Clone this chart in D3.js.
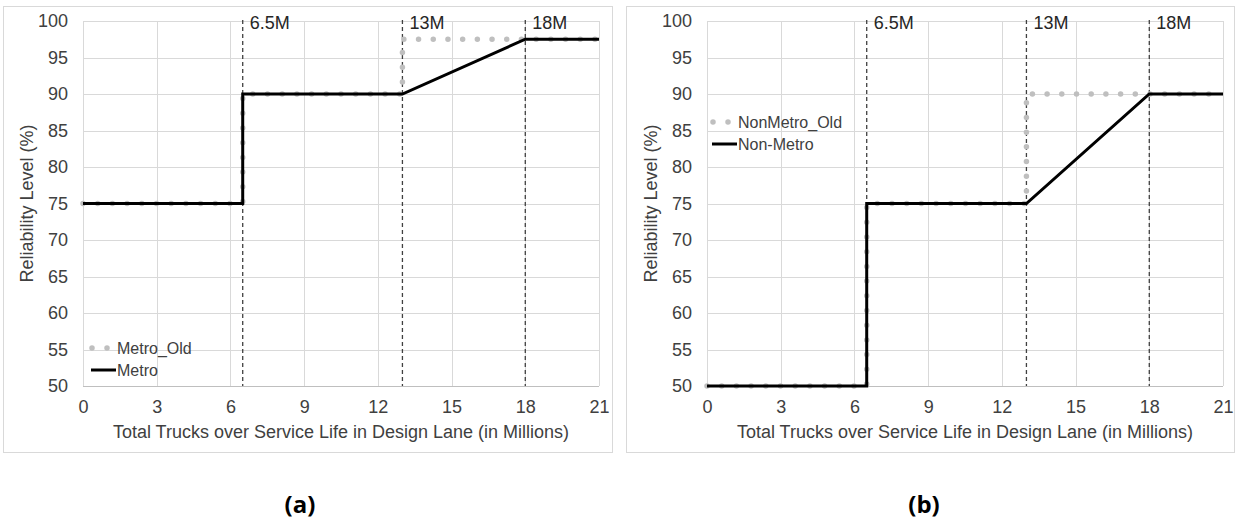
<!DOCTYPE html>
<html><head><meta charset="utf-8">
<script src="https://cdn.jsdelivr.net/npm/d3@7"></script>
<style>
html,body{margin:0;padding:0;background:#fff;}
text{font-family:"Liberation Sans",Arial,sans-serif;}
</style></head>
<body><svg id="c" width="1237" height="520"></svg>
<script>
// ---- data ----
const xTicks = [0, 3, 6, 9, 12, 15, 18, 21];
const yTicks = [50, 55, 60, 65, 70, 75, 80, 85, 90, 95, 100];
const thresholds = [6.5, 13, 18];
const thresholdLabels = ["6.5M", "13M", "18M"];

const metroOldX = [0, 6.5, 6.5, 13, 13, 18, 21];
const metroOldY = [75, 75, 90, 90, 97.5, 97.5, 97.5];
const metroX = [0, 6.5, 6.5, 13, 18, 21];
const metroY = [75, 75, 90, 90, 97.5, 97.5];

const nonMetroOldX = [0, 6.5, 6.5, 13, 13, 18, 21];
const nonMetroOldY = [50, 50, 75, 75, 90, 90, 90];
const nonMetroX = [0, 6.5, 6.5, 13, 18, 21];
const nonMetroY = [50, 50, 75, 75, 90, 90];

const panels = [
  {caption: "(a)", oldName: "Metro_Old", newName: "Metro",
   oldX: metroOldX, oldY: metroOldY, newX: metroX, newY: metroY,
   box: [3, 6, 612, 452], plot: [83, 21, 599, 386], legend: [92, 348], capX: 300},
  {caption: "(b)", oldName: "NonMetro_Old", newName: "Non-Metro",
   oldX: nonMetroOldX, oldY: nonMetroOldY, newX: nonMetroX, newY: nonMetroY,
   box: [626, 6, 1234, 452], plot: [707, 21, 1223, 386], legend: [713, 122], capX: 924}
];

const svg = d3.select("#c");
const FS = 18;
const TXT = "#404040";

panels.forEach(p => {
  const g = svg.append("g");
  const [bx0, by0, bx1, by1] = p.box;
  g.append("rect").attr("x", bx0 + 0.5).attr("y", by0 + 0.5)
    .attr("width", bx1 - bx0).attr("height", by1 - by0)
    .attr("fill", "#fff").attr("stroke", "#d9d9d9").attr("stroke-width", 1);

  const [px0, py0, px1, py1] = p.plot;
  const x = d3.scaleLinear().domain([0, 21]).range([px0, px1]);
  const y = d3.scaleLinear().domain([50, 100]).range([py1, py0]);

  // gridlines
  g.append("g").selectAll("line").data(yTicks).join("line")
    .attr("x1", px0).attr("x2", px1)
    .attr("y1", d => Math.round(y(d)) + 0.5).attr("y2", d => Math.round(y(d)) + 0.5)
    .attr("stroke", d => d === 50 ? "#bfbfbf" : "#d9d9d9").attr("stroke-width", 1);
  g.append("g").selectAll("line").data(xTicks).join("line")
    .attr("y1", py0).attr("y2", py1)
    .attr("x1", d => Math.round(x(d)) + 0.5).attr("x2", d => Math.round(x(d)) + 0.5)
    .attr("stroke", "#d9d9d9").attr("stroke-width", 1);

  // axes (labels only)
  const xa = g.append("g").attr("transform", `translate(0,${py1})`)
    .call(d3.axisBottom(x).tickValues(xTicks).tickSize(0).tickPadding(14));
  xa.select(".domain").remove();
  xa.attr("font-size", FS).attr("font-family", "Liberation Sans, Arial, sans-serif");
  xa.selectAll("text").attr("fill", TXT);
  const ya = g.append("g").attr("transform", `translate(${px0},0)`)
    .call(d3.axisLeft(y).tickValues(yTicks).tickSize(0).tickPadding(15));
  ya.select(".domain").remove();
  ya.attr("font-size", FS).attr("font-family", "Liberation Sans, Arial, sans-serif");
  ya.selectAll("text").attr("fill", TXT);

  // axis titles
  g.append("text").attr("x", (px0 + px1) / 2).attr("y", py1 + 52)
    .attr("text-anchor", "middle").attr("font-size", FS).attr("fill", TXT)
    .text("Total Trucks over Service Life in Design Lane (in Millions)");
  g.append("text").attr("transform", `translate(${px0 - 50},${(py0 + py1) / 2}) rotate(-90)`)
    .attr("text-anchor", "middle").attr("font-size", FS).attr("fill", TXT)
    .text("Reliability Level (%)");

  // threshold lines
  thresholds.forEach((t, i) => {
    g.append("line").attr("x1", x(t)).attr("x2", x(t))
      .attr("y1", py0 - 1).attr("y2", py1)
      .attr("stroke", "#404040").attr("stroke-width", 1.3)
      .attr("stroke-dasharray", "4,3");
    g.append("text").attr("x", x(t) + 7).attr("y", py0 + 8)
      .attr("font-size", FS).attr("fill", "#262626").text(thresholdLabels[i]);
  });

  const line = d3.line().x(d => x(d[0])).y(d => y(d[1]));
  const oldPts = p.oldX.map((v, i) => [v, p.oldY[i]]);
  const newPts = p.newX.map((v, i) => [v, p.newY[i]]);

  g.append("path").attr("d", line(oldPts)).attr("fill", "none")
    .attr("stroke", "#bfbfbf").attr("stroke-width", 5.5)
    .attr("stroke-linecap", "round").attr("stroke-dasharray", "0,14.7");
  g.append("path").attr("d", line(newPts)).attr("fill", "none")
    .attr("stroke", "#000").attr("stroke-width", 3).attr("stroke-linejoin", "miter");

  // legend
  const [lx, ly] = p.legend;
  g.append("line").attr("x1", lx).attr("x2", lx + 16).attr("y1", ly).attr("y2", ly)
    .attr("stroke", "#bfbfbf").attr("stroke-width", 5.5)
    .attr("stroke-linecap", "round").attr("stroke-dasharray", "0,15");
  g.append("text").attr("x", lx + 25).attr("y", ly + 6).attr("font-size", 16)
    .attr("fill", TXT).text(p.oldName);
  g.append("line").attr("x1", lx - 1).attr("x2", lx + 24).attr("y1", ly + 22).attr("y2", ly + 22)
    .attr("stroke", "#000").attr("stroke-width", 3);
  g.append("text").attr("x", lx + 25).attr("y", ly + 28).attr("font-size", 16)
    .attr("fill", TXT).text(p.newName);

  // caption
  svg.append("text").attr("x", p.capX).attr("y", 513).attr("text-anchor", "middle")
    .attr("font-size", 24).attr("font-weight", "bold").attr("fill", "#000")
    .style("font-family", "'Open Sans', sans-serif").text(p.caption);
});
</script></body></html>
